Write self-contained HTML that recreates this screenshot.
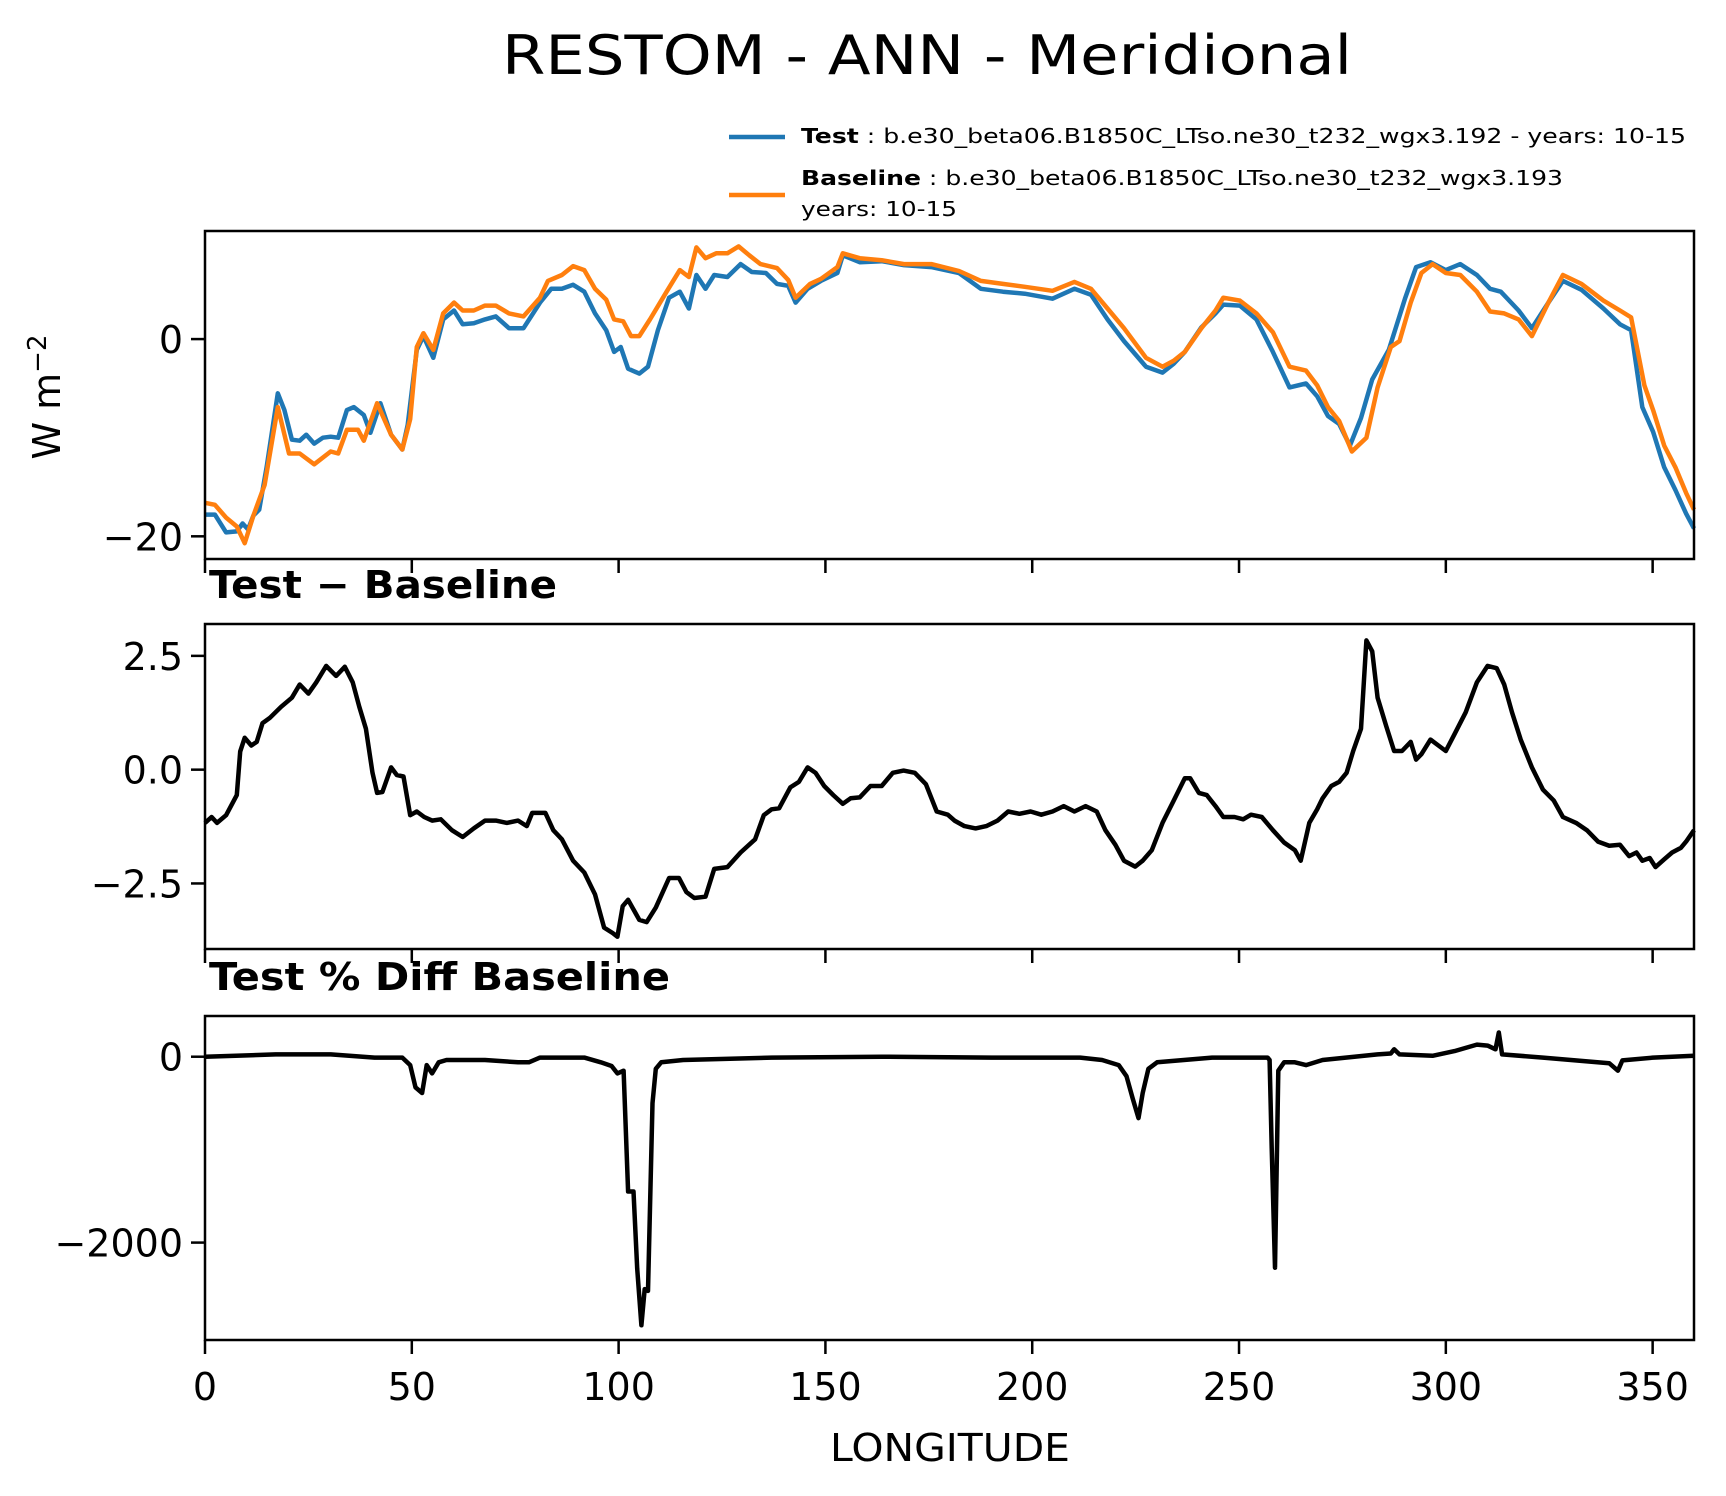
<!DOCTYPE html>
<html><head><meta charset="utf-8"><style>
html,body{margin:0;padding:0;background:#fff;}
svg{display:block;font-family:"DejaVu Sans","Liberation Sans",sans-serif;}
</style></head><body>
<svg id="fig" width="1726" height="1496" viewBox="0 0 1726 1496" xmlns="http://www.w3.org/2000/svg">
<rect width="1726" height="1496" fill="#fff"/>
<text x="502" y="74" font-size="54" textLength="850" lengthAdjust="spacingAndGlyphs">RESTOM - ANN - Meridional</text>
<g>
<line x1="729" y1="137" x2="785" y2="137" stroke="#1f77b4" stroke-width="4.5"/>
<text x="801" y="143" font-size="20" textLength="885" lengthAdjust="spacingAndGlyphs"><tspan font-weight="bold">Test</tspan> : b.e30_beta06.B1850C_LTso.ne30_t232_wgx3.192 - years: 10-15</text>
<line x1="729" y1="195" x2="785" y2="195" stroke="#ff7f0e" stroke-width="4.5"/>
<text x="801" y="185" font-size="20" textLength="762" lengthAdjust="spacingAndGlyphs"><tspan font-weight="bold">Baseline</tspan> : b.e30_beta06.B1850C_LTso.ne30_t232_wgx3.193</text>
<text x="801" y="216" font-size="20" textLength="156" lengthAdjust="spacingAndGlyphs">years: 10-15</text>
</g>
<text transform="translate(60,397) rotate(-90)" font-size="38" text-anchor="middle">W m<tspan dy="-14" font-size="26">−2</tspan></text>
<text x="209" y="598" font-size="38" font-weight="bold" textLength="348" lengthAdjust="spacingAndGlyphs">Test − Baseline</text>
<text x="209" y="990" font-size="38" font-weight="bold" textLength="461" lengthAdjust="spacingAndGlyphs">Test % Diff Baseline</text>
<text x="950" y="1461" font-size="38" text-anchor="middle" textLength="240" lengthAdjust="spacingAndGlyphs">LONGITUDE</text>
<g id="plots"></g>
</svg>
<script>
const testLon=[0,2.4,5.1,7.7,9.1,10.4,11.7,13.1,14.9,17.6,19.2,21.0,22.9,24.5,26.4,28.5,30.4,32.2,34.3,36.0,38.4,40.0,42.4,45.0,47.7,49.0,51.2,52.8,55.2,57.6,60.2,62.3,65.0,67.7,70.3,73.5,77.0,81.0,83.7,86.3,89.0,91.7,94.3,97.0,98.9,100.5,102.3,105.0,107.1,109.5,112.2,114.8,117.0,118.8,121.0,123.1,126.3,129.5,132.2,135.6,138.3,141.0,142.8,145.7,148.9,152.9,154.2,158.3,163.6,169.0,175.6,182.3,187.6,192.9,198.2,204.9,210.2,214.2,218.2,222.2,227.5,231.5,234.2,236.9,240.9,244.3,246.2,250.2,254.2,258.2,262.2,266.2,268.9,271.5,274.2,276.8,279.5,282.2,286.2,290.2,292.8,296.3,300.0,303.5,307.5,310.7,313.3,317.6,320.8,324.8,328.3,332.8,338.1,342.1,344.8,347.5,350.1,352.8,355.5,358.1,360];
const testVal=[-17.8,-17.8,-19.6,-19.5,-18.7,-19.3,-17.9,-17.3,-13.0,-5.5,-7.2,-10.2,-10.3,-9.7,-10.6,-10.0,-9.9,-10.0,-7.2,-6.9,-7.7,-9.5,-6.5,-9.7,-11.2,-8.7,-1.1,0.3,-1.9,2.0,2.9,1.5,1.6,2.0,2.3,1.1,1.1,3.7,5.1,5.1,5.5,4.8,2.6,0.9,-1.3,-0.8,-3.0,-3.5,-2.8,0.9,4.2,4.8,3.1,6.5,5.1,6.5,6.3,7.6,6.8,6.7,5.6,5.4,3.7,5.1,5.9,6.7,8.5,7.8,7.9,7.5,7.3,6.7,5.1,4.8,4.6,4.1,5.1,4.5,2.0,-0.2,-2.8,-3.4,-2.5,-1.3,1.2,2.6,3.5,3.4,2.0,-1.3,-4.9,-4.5,-5.8,-7.8,-8.6,-10.8,-8.0,-4.1,-1.1,4.2,7.3,7.8,7.0,7.6,6.5,5.1,4.8,2.9,1.1,3.7,5.9,5.0,3.1,1.5,0.9,-6.9,-9.4,-13.0,-15.3,-17.7,-19.2];
const baseLon=[0,2.4,5.1,7.7,9.6,11.7,14.4,17.6,20.3,22.9,26.4,30.4,32.2,34.3,37.0,38.4,41.6,45.0,47.7,49.6,51.2,52.8,55.2,57.6,60.2,62.3,65.0,67.7,70.3,73.5,77.0,81.0,82.9,86.3,89.0,91.7,94.3,97.0,98.9,101.1,103.0,105.0,107.6,111.6,114.8,117.0,118.8,121.0,123.6,126.3,129.0,131.6,134.3,138.3,141.0,142.8,146.3,148.9,152.9,154.2,158.3,163.6,169.0,175.6,182.3,187.6,192.9,198.2,204.9,210.2,214.2,218.2,222.2,227.5,231.5,234.2,236.9,240.9,244.3,246.2,250.2,254.2,258.2,262.2,266.2,268.9,271.5,274.2,277.3,280.8,283.5,286.7,288.8,291.5,294.1,296.8,300.0,303.5,307.5,310.7,314.1,317.6,320.8,324.8,328.3,332.8,338.1,342.1,344.8,348.0,350.1,352.8,355.5,358.1,360];
const baseVal=[-16.6,-16.8,-18.1,-19.0,-20.7,-17.9,-14.8,-6.9,-11.6,-11.6,-12.7,-11.4,-11.6,-9.2,-9.2,-10.3,-6.5,-9.7,-11.2,-8.1,-0.8,0.6,-1.1,2.6,3.7,2.9,2.9,3.4,3.4,2.6,2.3,4.2,5.9,6.5,7.4,7.0,5.1,4.0,2.0,1.8,0.3,0.3,2.0,4.8,7.0,6.3,9.3,8.2,8.7,8.7,9.4,8.5,7.6,7.2,6.0,4.2,5.6,6.1,7.3,8.7,8.2,8.0,7.6,7.6,6.9,5.9,5.6,5.3,4.9,5.8,5.1,3.1,1.1,-1.9,-2.8,-2.2,-1.3,1.1,2.9,4.2,3.9,2.6,0.7,-2.8,-3.2,-4.7,-6.9,-8.3,-11.4,-10.0,-4.9,-0.8,-0.2,3.7,6.7,7.6,6.7,6.5,4.8,2.8,2.6,2.0,0.3,3.7,6.5,5.6,3.9,2.9,2.2,-4.7,-7.2,-10.8,-13.0,-15.6,-17.3];
const diffLon=[0,1.6,2.9,5.1,7.7,8.5,9.6,11.2,12.5,13.9,15.7,18.4,21.0,22.9,25.0,26.9,29.3,31.7,33.8,35.7,37.3,38.9,40.5,41.6,42.9,45.0,46.4,48.0,49.6,51.2,53.0,54.9,57.0,59.7,62.3,65.0,67.7,70.3,73.0,75.7,77.8,79.1,82.3,84.2,86.3,89.0,91.7,94.3,96.5,98.6,99.7,101.0,102.3,105.0,106.8,109.0,112.2,114.6,116.4,118.3,121.0,123.1,126.3,129.5,133.0,135.1,137.0,138.8,141.5,143.6,145.7,147.6,149.7,151.9,154.2,156.1,158.3,160.9,163.6,166.3,168.9,171.6,174.3,176.9,179.6,181.2,183.6,186.3,188.9,191.6,194.2,196.9,199.6,202.2,204.9,207.6,210.2,212.9,215.6,217.7,220.1,222.2,224.9,226.7,228.9,231.5,234.2,236.9,238.2,240.3,242.2,244.3,246.2,248.9,251.0,252.9,255.5,258.2,260.9,263.5,264.9,267.0,268.9,270.2,272.3,274.2,276.0,277.6,279.5,280.8,282.2,283.5,285.6,287.5,289.4,291.5,292.8,294.1,296.3,298.2,300.0,302.1,304.8,307.5,310.1,312.3,314.1,316.0,318.1,320.8,323.5,326.1,328.3,331.5,334.1,336.8,339.5,342.1,344.3,346.1,347.5,349.3,350.7,352.8,354.7,356.8,358.1,360];
const diffVal=[-1.17,-1.04,-1.17,-1.0,-0.56,0.4,0.7,0.53,0.61,1.02,1.14,1.38,1.58,1.87,1.67,1.92,2.28,2.06,2.26,1.92,1.38,0.9,-0.07,-0.51,-0.49,0.05,-0.12,-0.15,-1.0,-0.92,-1.04,-1.12,-1.09,-1.33,-1.48,-1.29,-1.12,-1.12,-1.17,-1.12,-1.24,-0.95,-0.95,-1.33,-1.53,-2.0,-2.26,-2.74,-3.47,-3.59,-3.67,-3.0,-2.86,-3.3,-3.35,-3.03,-2.38,-2.38,-2.69,-2.82,-2.79,-2.18,-2.14,-1.82,-1.53,-1.0,-0.87,-0.85,-0.39,-0.27,0.05,-0.07,-0.36,-0.56,-0.75,-0.63,-0.61,-0.36,-0.36,-0.07,-0.02,-0.07,-0.32,-0.92,-0.99,-1.12,-1.24,-1.29,-1.24,-1.12,-0.92,-0.97,-0.92,-0.99,-0.92,-0.8,-0.92,-0.8,-0.92,-1.33,-1.65,-2.0,-2.13,-2.0,-1.77,-1.17,-0.68,-0.19,-0.19,-0.51,-0.56,-0.8,-1.04,-1.04,-1.09,-0.99,-1.04,-1.33,-1.6,-1.77,-2.0,-1.17,-0.87,-0.63,-0.36,-0.27,-0.07,0.41,0.9,2.84,2.6,1.58,0.95,0.41,0.41,0.61,0.22,0.34,0.66,0.53,0.41,0.78,1.26,1.92,2.28,2.23,1.87,1.26,0.66,0.05,-0.44,-0.68,-1.04,-1.17,-1.33,-1.58,-1.67,-1.65,-1.9,-1.82,-2.0,-1.94,-2.14,-1.97,-1.82,-1.72,-1.58,-1.33];
const pctLon=[0,17.1,30.4,41.0,47.7,49.6,50.9,52.5,53.6,54.9,56.5,58.4,67.7,75.7,78.3,81.0,91.7,95.7,98.3,99.7,101.2,102.3,103.6,104.5,105.5,106.3,107.1,108.2,109.0,110.3,115.6,137.0,163.6,190.2,211.6,216.9,220.9,222.8,224.3,225.7,226.7,228.1,230.2,243.5,256.9,257.4,257.9,258.7,259.5,260.9,263.5,266.2,270.2,283.5,286.7,287.5,288.8,296.8,302.1,307.5,310.1,312.0,312.8,313.6,323.5,339.5,341.6,342.7,350.1,360];
const pctVal=[0,25,25,-10,-10,-90,-330,-390,-90,-180,-60,-35,-35,-60,-60,-10,-10,-60,-100,-180,-150,-1450,-1450,-2280,-2890,-2500,-2520,-500,-130,-60,-35,-10,0,-10,-10,-35,-90,-210,-450,-660,-390,-130,-60,-10,-10,-35,-980,-2270,-150,-60,-60,-90,-35,25,35,80,25,10,60,130,120,80,260,25,-10,-70,-150,-40,-10,10];
const xTicks=[0,50,100,150,200,250,300,350];
const p1Ticks=[0,-20], p1Labels=["0","−20"];
const p2Ticks=[2.5,0,-2.5], p2Labels=["2.5","0.0","−2.5"];
const p3Ticks=[0,-2000], p3Labels=["0","−2000"];

const NS="http://www.w3.org/2000/svg";
const g=document.getElementById('plots');
const X0=205,X1=1694;
const xs=v=>X0+(v-0)/(360-0)*(X1-X0);
function mk(tag,attrs,parent){const e=document.createElementNS(NS,tag);for(const k in attrs)e.setAttribute(k,attrs[k]);(parent||g).appendChild(e);return e;}
function panel(name,top,bot,ymax,ymin,ticks,labels,series,xlabels){
  const ys=v=>top+(ymax-v)/(ymax-ymin)*(bot-top);
  const grp=mk('g',{});
  
  
  series.forEach(s=>{
    const d=s.lon.map((l,i)=>(i?'L':'M')+xs(l).toFixed(1)+' '+ys(s.val[i]).toFixed(1)).join(' ');
    const p=mk('path',{d:d,fill:'none',stroke:s.color,'stroke-width':4.5,'stroke-linejoin':'round'},grp);
    
    
  });
  const fr=mk('rect',{x:X0,y:top,width:X1-X0,height:bot-top,fill:'none',stroke:'#000','stroke-width':2.5},grp);
  
  
  ticks.forEach((t,i)=>{
    const y=ys(t);
    const tl=mk('line',{x1:X0-14,x2:X0,y1:y,y2:y,stroke:'#000','stroke-width':2.5},grp);
    
    
    const tx=mk('text',{x:X0-22,y:y+14,'font-size':38,'text-anchor':'end'},grp);
    tx.textContent=labels[i];
    
    
  });
  xTicks.forEach(t=>{
    const x=xs(t);
    const tl=mk('line',{x1:x,x2:x,y1:bot,y2:bot+14,stroke:'#000','stroke-width':2.5},grp);
    
    
    if(xlabels){
      const tx=mk('text',{x:x,y:bot+60,'font-size':38,'text-anchor':'middle'},grp);
      tx.textContent=String(t);
      
      
    }
  });
}
panel('restom-panel',231,559,10.96,-22.3,p1Ticks,p1Labels,[
  {lon:testLon,val:testVal,color:'#1f77b4',name:'test-line'},
  {lon:baseLon,val:baseVal,color:'#ff7f0e',name:'baseline-line'}],false);
panel('diff-panel',624,949,3.2,-3.94,p2Ticks,p2Labels,[
  {lon:diffLon,val:diffVal,color:'#000',name:'diff-line'}],false);
panel('pct-panel',1016,1340,438,-3048,p3Ticks,p3Labels,[
  {lon:pctLon,val:pctVal,color:'#000',name:'pct-diff-line'}],true);
</script>
</body></html>
